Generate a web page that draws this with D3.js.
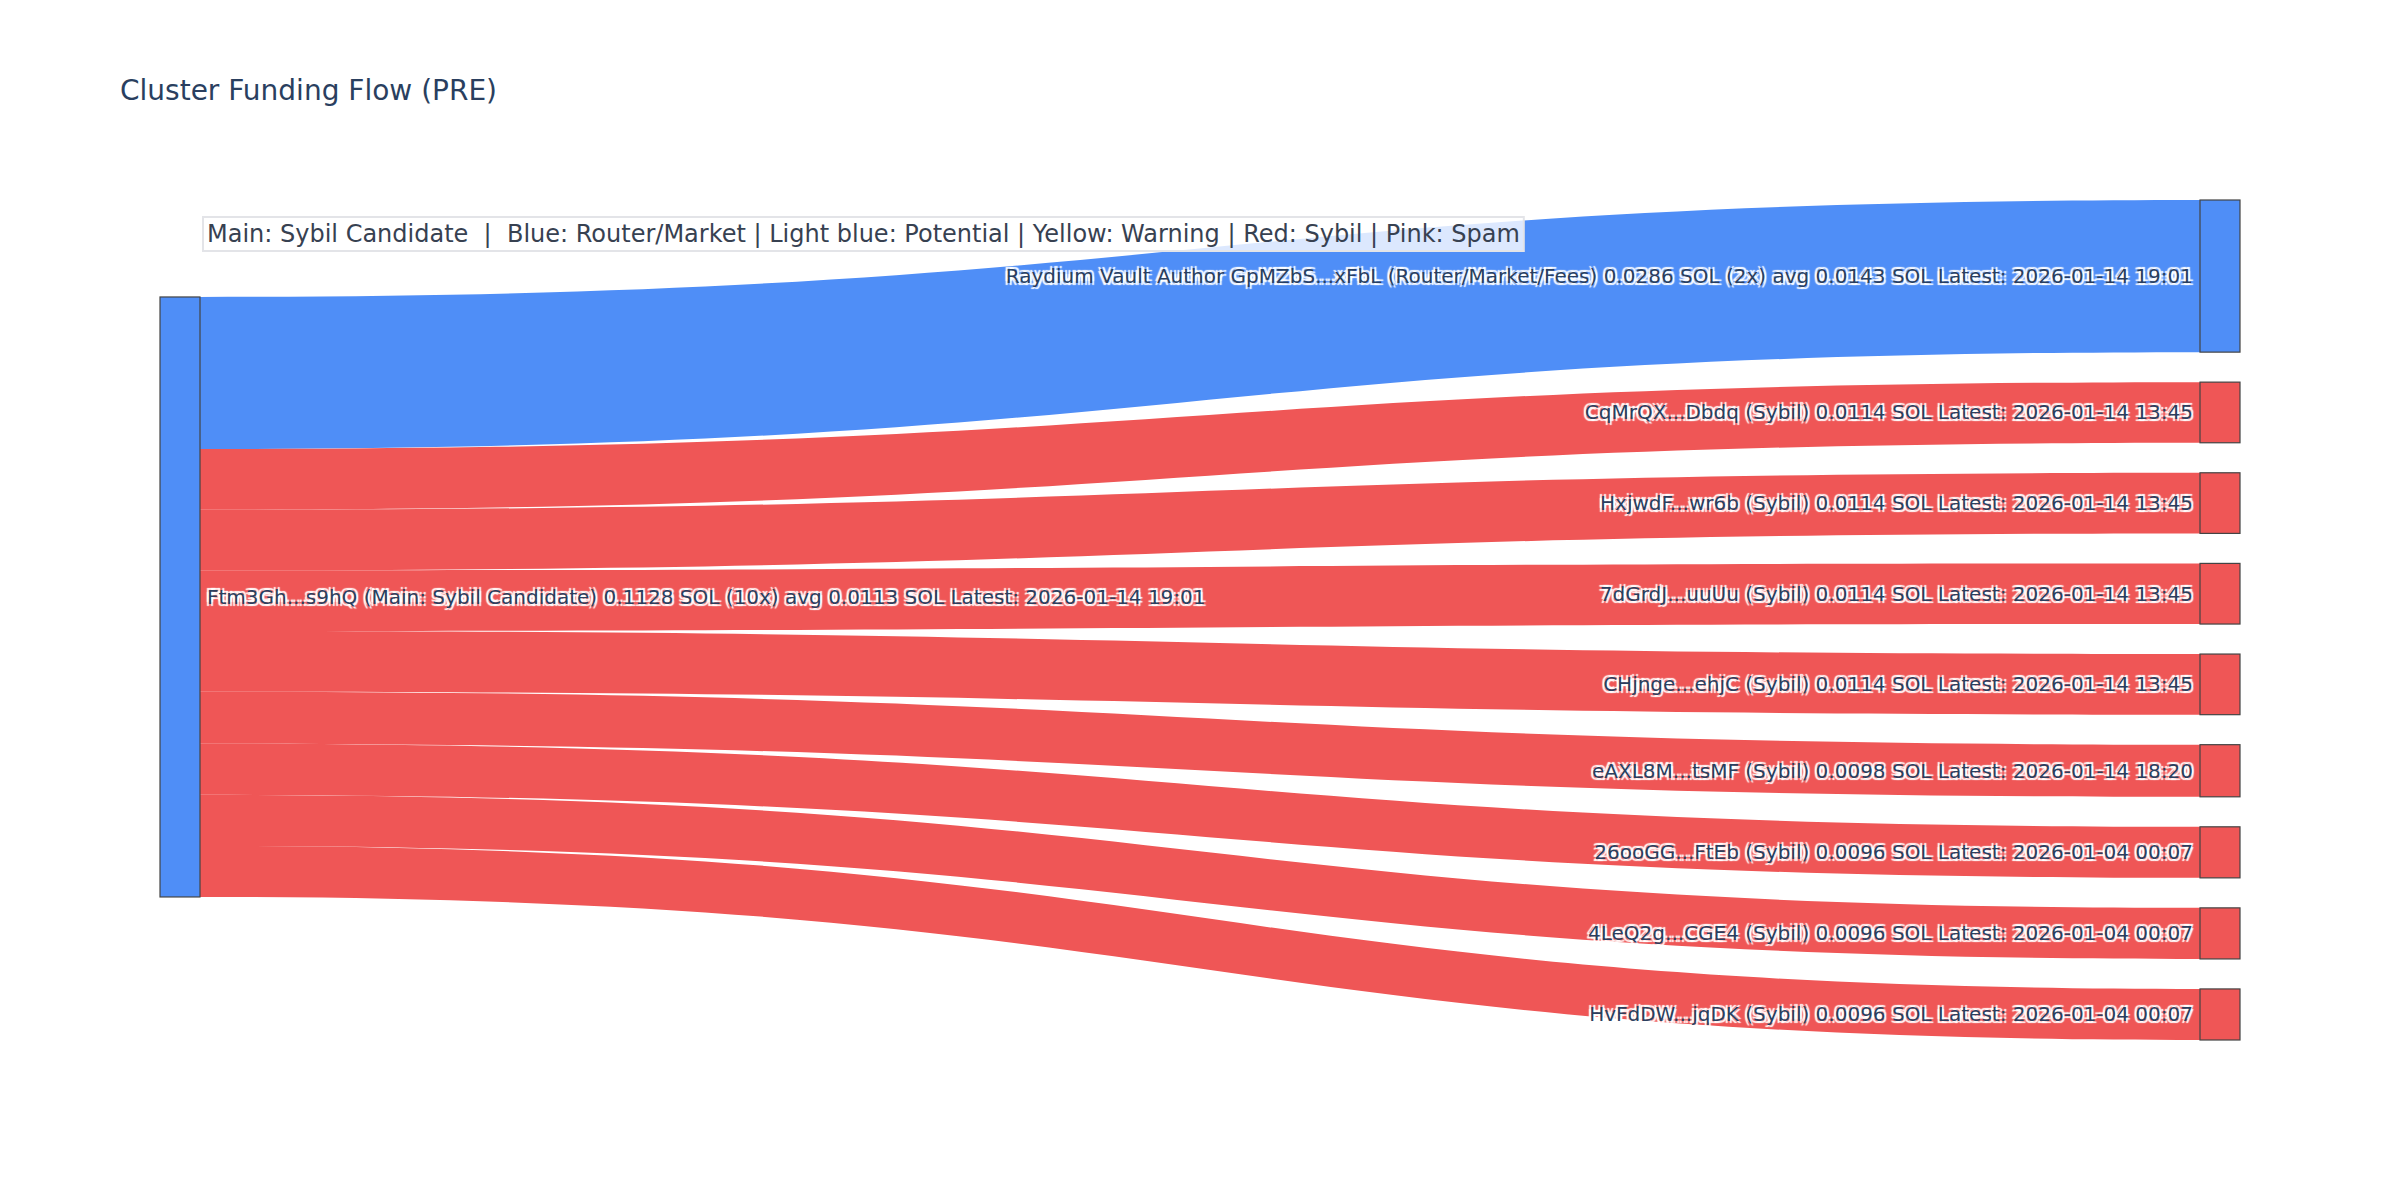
<!DOCTYPE html>
<html>
<head>
<title>Cluster Funding Flow (PRE)</title>
<script src="https://d3js.org/d3.v7.min.js"></script>
<style>
	body {margin:0; background:#fff;}
	.lbl {font-family:"DejaVu Sans", sans-serif; font-size:20px; fill:#2a3f5f;
		text-shadow: 2px 2px 1px #fff, -2px -2px 1px #fff, 2px -2px 1px #fff, -2px 2px 1px #fff;}
</style>
</head>
<body>
<div id="chart"></div>
<script>
// source node
var sourceLabel = "Ftm3Gh...s9hQ (Main: Sybil Candidate) 0.1128 SOL (10x) avg 0.0113 SOL Latest: 2026-01-14 19:01";
var sourceGroup = "router";

// target nodes, top to bottom
var targetLabels = [
	"Raydium Vault Author GpMZbS...xFbL (Router/Market/Fees) 0.0286 SOL (2x) avg 0.0143 SOL Latest: 2026-01-14 19:01",
	"CqMrQX...Dbdq (Sybil) 0.0114 SOL Latest: 2026-01-14 13:45",
	"HxjwdF...wr6b (Sybil) 0.0114 SOL Latest: 2026-01-14 13:45",
	"7dGrdJ...uuUu (Sybil) 0.0114 SOL Latest: 2026-01-14 13:45",
	"CHjnge...ehjC (Sybil) 0.0114 SOL Latest: 2026-01-14 13:45",
	"eAXL8M...tsMF (Sybil) 0.0098 SOL Latest: 2026-01-14 18:20",
	"26ooGG...FtEb (Sybil) 0.0096 SOL Latest: 2026-01-04 00:07",
	"4LeQ2g...CGE4 (Sybil) 0.0096 SOL Latest: 2026-01-04 00:07",
	"HvFdDW...jqDK (Sybil) 0.0096 SOL Latest: 2026-01-04 00:07"
];
var targetValues = [0.0286, 0.0114, 0.0114, 0.0114, 0.0114, 0.0098, 0.0096, 0.0096, 0.0096];
var targetGroups = ["router", "sybil", "sybil", "sybil", "sybil", "sybil", "sybil", "sybil", "sybil"];

var legendText = "Main: Sybil Candidate  |  Blue: Router/Market | Light blue: Potential | Yellow: Warning | Red: Sybil | Pink: Spam";

var W = 2400, H = 1200;
var m = {l:160, r:160, t:200, b:160};
var nodeW = 40, pad = 30;
var color = d3.scaleOrdinal().domain(["router", "sybil"]).range(["#4f8ef7", "#ef5656"]);

var svg = d3.select("#chart").append("svg")
	.attr("width", W)
	.attr("height", H)
	.style("font-family", "DejaVu Sans, sans-serif");

var total = d3.sum(targetValues);
var avail = H - m.t - m.b - (targetValues.length - 1) * pad;
var ky = d3.scaleLinear().domain([0, total]).range([0, avail]);
var x = d3.scaleLinear().domain([0, 1]).range([m.l, W - m.r - nodeW]);

// stack the target column
var targets = [];
var yy = m.t;
targetValues.forEach(function(v, i) {
	targets.push({label: targetLabels[i], value: v, group: targetGroups[i], y0: yy, y1: yy + ky(v)});
	yy += ky(v) + pad;
});

// place source at the value weighted alignment of its links
var off = 0, acc = 0;
targets.forEach(function(t) {
	t.off = off;
	acc += t.value * (t.y0 - off);
	off += ky(t.value);
});
var src = {label: sourceLabel, group: sourceGroup, y0: acc / total};
src.y1 = src.y0 + ky(total);

var xs = x(0) + nodeW, xt = x(1), xm = (xs + xt) / 2;

svg.append("g").selectAll("path").data(targets).enter()
	.append("path")
	.attr("fill", function(d) { return color(d.group); })
	.attr("d", function(d) {
		var s0 = src.y0 + d.off, s1 = s0 + ky(d.value);
		return "M" + xs + "," + s0 +
			"C" + xm + "," + s0 + " " + xm + "," + d.y0 + " " + xt + "," + d.y0 +
			"L" + xt + "," + d.y1 +
			"C" + xm + "," + d.y1 + " " + xm + "," + s1 + " " + xs + "," + s1 + "Z";
	});

// nodes
svg.append("rect")
	.attr("x", x(0)).attr("y", src.y0)
	.attr("width", nodeW).attr("height", src.y1 - src.y0)
	.attr("fill", color(src.group))
	.attr("stroke", "#444").attr("stroke-width", 1.2);

svg.append("g").selectAll("rect").data(targets).enter()
	.append("rect")
	.attr("x", x(1))
	.attr("y", function(d) { return d.y0; })
	.attr("width", nodeW)
	.attr("height", function(d) { return d.y1 - d.y0; })
	.attr("fill", function(d) { return color(d.group); })
	.attr("stroke", "#444").attr("stroke-width", 1.2);

// labels
svg.append("text")
	.attr("class", "lbl")
	.attr("x", x(0) + nodeW + 7)
	.attr("y", (src.y0 + src.y1) / 2)
	.attr("dy", "0.35em")
	.text(src.label);

svg.append("g").selectAll("text").data(targets).enter()
	.append("text")
	.attr("class", "lbl")
	.attr("x", x(1) - 7)
	.attr("y", function(d) { return (d.y0 + d.y1) / 2; })
	.attr("dy", "0.35em")
	.attr("text-anchor", "end")
	.text(function(d) { return d.label; });

// legend annotation
var ann = svg.append("g");
var annBox = ann.append("rect");
var annText = ann.append("text")
	.attr("x", 207)
	.attr("y", 242)
	.attr("font-size", 24)
	.attr("fill", "#374151")
	.attr("xml:space", "preserve")
	.style("white-space", "pre")
	.text(legendText);
var bb = annText.node().getBBox();
annBox.attr("x", bb.x - 4).attr("y", 217)
	.attr("width", bb.width + 8).attr("height", 34)
	.attr("fill", "rgba(255,255,255,0.8)")
	.attr("stroke", "#e3e4e8").attr("stroke-width", 2);

// title
svg.append("text")
	.attr("x", 120)
	.attr("y", 100)
	.attr("font-size", 28)
	.attr("fill", "#2a3f5f")
	.text("Cluster Funding Flow (PRE)");
</script>
</body>
</html>
